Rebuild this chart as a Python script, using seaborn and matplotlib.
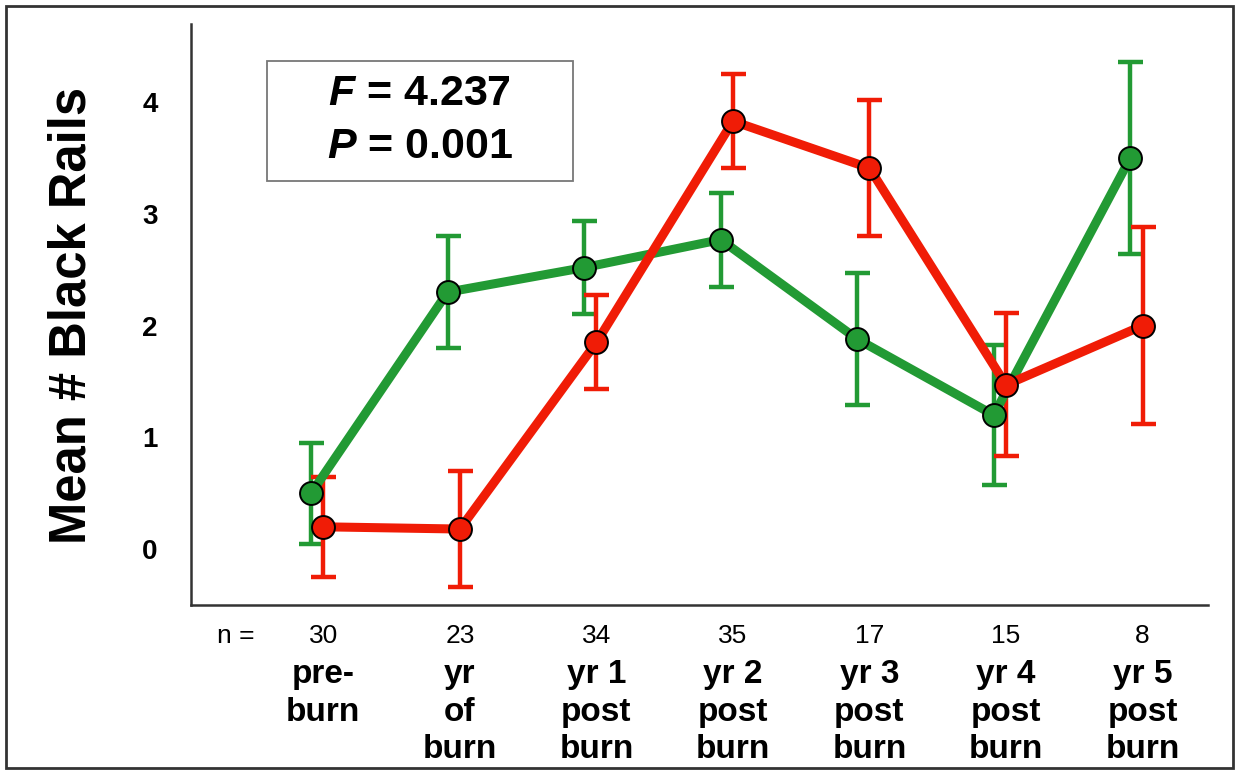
import pandas as pd
import seaborn as sns
import matplotlib.pyplot as plt
from matplotlib.patches import Rectangle

# ---- data ----
periods = ["pre-\nburn", "yr\nof\nburn", "yr 1\npost\nburn", "yr 2\npost\nburn",
           "yr 3\npost\nburn", "yr 4\npost\nburn", "yr 5\npost\nburn"]
n_values = ["30", "23", "34", "35", "17", "15", "8"]

green_mean = [0.50, 2.30, 2.52, 2.77, 1.88, 1.20, 3.50]
green_err = [0.45, 0.50, 0.42, 0.42, 0.59, 0.63, 0.86]
red_mean = [0.20, 0.18, 1.85, 3.83, 3.41, 1.47, 2.00]
red_err = [0.45, 0.52, 0.42, 0.42, 0.61, 0.64, 0.88]

stat_lines = ["$F$ = 4.237", "$P$ = 0.001"]

GREEN = "#229a34"
RED = "#f01c06"

sns.set_theme(style="white")
plt.rcParams["font.family"] = ["Liberation Sans", "DejaVu Sans"]
plt.rcParams["mathtext.fontset"] = "custom"
plt.rcParams["mathtext.it"] = "Liberation Sans:italic:bold"
plt.rcParams["mathtext.rm"] = "Liberation Sans:bold"
for key in ["text.color", "axes.labelcolor", "xtick.color", "ytick.color"]:
    plt.rcParams[key] = "black"

# long table for seaborn, green slightly dodged to the left
offsets = {"Green": -0.09, "Red": 0.0}
rows = []
for group, means, errs in [("Green", green_mean, green_err), ("Red", red_mean, red_err)]:
    for i, (m, e) in enumerate(zip(means, errs)):
        rows.append({"group": group, "pos": i + offsets[group], "mean": m, "err": e})
df = pd.DataFrame(rows)
palette = {"Green": GREEN, "Red": RED}

fig = plt.figure(figsize=(12.37, 7.73), dpi=100)
ax = fig.add_axes([0.1544, 0.2173, 0.8222, 0.7517])

# error bars under the lines
for group, sub in df.groupby("group"):
    ax.errorbar(sub["pos"], sub["mean"], yerr=sub["err"], fmt="none",
                ecolor=palette[group], elinewidth=3.2, capsize=9, capthick=3.2, zorder=1.5)

sns.lineplot(data=df, x="pos", y="mean", hue="group", hue_order=["Green", "Red"],
             palette=palette, linewidth=6.5, marker="o", markersize=16.5,
             markeredgecolor="black", markeredgewidth=1.4, errorbar=None,
             sort=False, legend=False, ax=ax)

ax.set_xlim(-0.97, 6.48)
ax.set_ylim(-0.5, 4.7)
ax.set_xlabel("")
ax.set_ylabel("")

ax.set_yticks([0, 1, 2, 3, 4])
ax.set_yticklabels(["0", "1", "2", "3", "4"], fontweight="bold")
ax.set_xticks(range(len(n_values)))
ax.set_xticklabels(n_values)

ax.tick_params(axis="y", length=8, width=1.5, labelsize=20, pad=16, color="#333333")
ax.tick_params(axis="x", length=7, width=1.5, labelsize=19, pad=7, color="#333333")

for side in ["top", "right"]:
    ax.spines[side].set_visible(False)
for side in ["left", "bottom"]:
    ax.spines[side].set_linewidth(1.8)
    ax.spines[side].set_color("#333333")

# period names under the n values
for i, name in enumerate(periods):
    ax.text(i, -0.093, name, transform=ax.get_xaxis_transform(), ha="center", va="top",
            fontsize=24, fontweight="bold", linespacing=1.27)

fig.text(236 / 1237, 1 - 636 / 773, "n =", ha="center", va="center", fontsize=19)

fig.text(72 / 1237, 1 - 315 / 773, "Mean # Black Rails", rotation=90,
         ha="center", va="center", fontsize=36.5, fontweight="bold")

# statistics box
ax.add_patch(Rectangle((0.0747, 0.7298), 0.3009, 0.2065, transform=ax.transAxes,
                       fill=False, edgecolor="#777777", linewidth=1.3, zorder=5))
ax.text(0.225, 0.879, stat_lines[0], transform=ax.transAxes, ha="center", va="center",
        fontsize=31, fontweight="bold")
ax.text(0.225, 0.788, stat_lines[1], transform=ax.transAxes, ha="center", va="center",
        fontsize=31, fontweight="bold")

# outer frame around the whole picture
fig.patches.append(Rectangle((0.005, 0.007), 0.992, 0.985, transform=fig.transFigure,
                             fill=False, edgecolor="#333333", linewidth=2))

fig.savefig("out.png", dpi=100)
